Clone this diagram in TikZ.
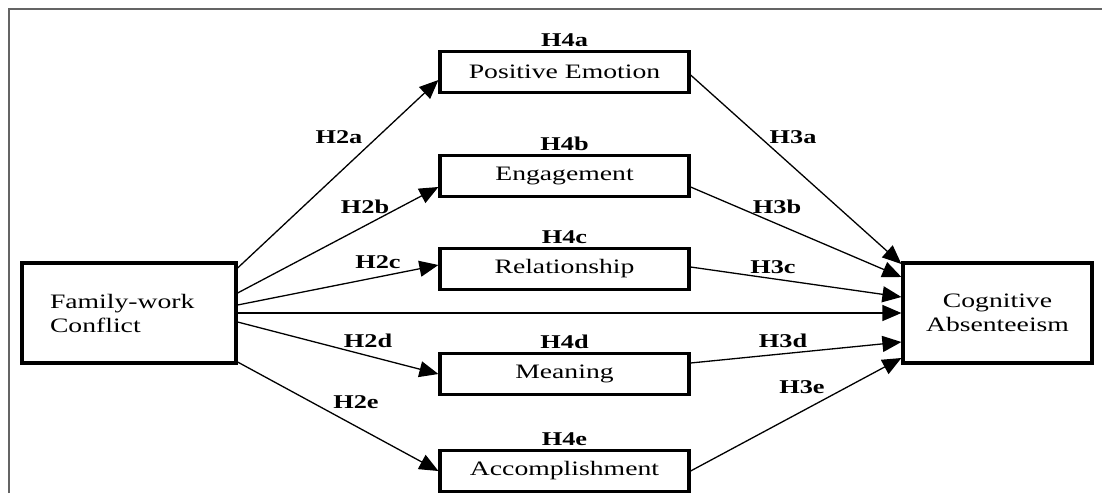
\documentclass[tikz,border=0pt]{standalone}
\usepackage{fontspec}
\setmainfont{Liberation Serif}[FakeStretch=1.35]
\usetikzlibrary{arrows.meta}
\definecolor{frameGray}{RGB}{100,100,100}

\begin{document}
\begin{tikzpicture}[x=1pt,y=-1pt,
  box/.style={draw,line width=3.2pt,inner sep=0pt,minimum width=249pt,minimum height=41pt,font=\fontsize{20.5}{24}\selectfont},
  hyp/.style={font=\bfseries\fontsize{19.5}{20}\selectfont,inner sep=0pt},
  link/.style={line width=1.3pt,-{Triangle[length=19pt,width=16pt]}}]
  \useasboundingbox (0,0) rectangle (1102,493);
  \draw[frameGray,line width=2pt] (9,493) -- (9,9) -- (1102,9);
  % outer constructs
  \node[box,minimum width=214pt,minimum height=100pt,text width=158pt,align=left] (fwc) at (129,313) {Family-work\\Conflict};
  \node[box,minimum width=189pt,minimum height=100pt,align=center] (ca) at (997.5,313) {Cognitive\\Absenteeism};
  % mediators
  \node[box] (pe) at (564.5,72) {Positive Emotion};
  \node[box] (eng) at (564.5,176) {Engagement};
  \node[box] (rel) at (564.5,269) {Relationship};
  \node[box] (mea) at (564.5,374) {Meaning};
  \node[box] (acc) at (564.5,471) {Accomplishment};
  \node[hyp,anchor=south] (h4a) at ([yshift=3pt]pe.north) {H4a};
  \node[hyp,anchor=south] (h4b) at ([yshift=3pt]eng.north) {H4b};
  \node[hyp,anchor=south] (h4c) at ([yshift=3pt]rel.north) {H4c};
  \node[hyp,anchor=south] (h4d) at ([yshift=3pt]mea.north) {H4d};
  \node[hyp,anchor=south] (h4e) at ([yshift=3pt]acc.north) {H4e};
  % paths from family-work conflict
  \draw[link] ([yshift=45pt]fwc.east) -- ([yshift=-8pt]pe.west);
  \draw[link] ([yshift=20pt]fwc.east) -- ([yshift=-11pt]eng.west);
  \draw[link] ([yshift=8pt]fwc.east) -- ([yshift=4pt]rel.west);
  \draw[link] (fwc.east) -- (ca.west);
  \draw[link] ([yshift=-9pt]fwc.east) -- (mea.west);
  \draw[link] ([yshift=-49pt]fwc.east) -- (acc.west);
  % paths to cognitive absenteeism
  \draw[link] ([yshift=-3pt]pe.east) -- ([yshift=49pt]ca.west);
  \draw[link] ([yshift=-11pt]eng.east) -- ([yshift=36pt]ca.west);
  \draw[link] ([yshift=2pt]rel.east) -- ([yshift=16pt]ca.west);
  \draw[link] ([yshift=11pt]mea.east) -- ([yshift=-29pt]ca.west);
  \draw[link] (acc.east) -- ([yshift=-45pt]ca.west);
  % hypothesis labels
  \node[hyp] (h2a) at (339,137) {H2a};
  \node[hyp] (h2b) at (365,207) {H2b};
  \node[hyp] (h2c) at (378,262) {H2c};
  \node[hyp] (h2d) at (368,341) {H2d};
  \node[hyp] (h2e) at (356,402) {H2e};
  \node[hyp] (h3a) at (793,137) {H3a};
  \node[hyp] (h3b) at (777,207) {H3b};
  \node[hyp] (h3c) at (773,267) {H3c};
  \node[hyp] (h3d) at (783,341) {H3d};
  \node[hyp] (h3e) at (802,387) {H3e};
\end{tikzpicture}
\end{document}
